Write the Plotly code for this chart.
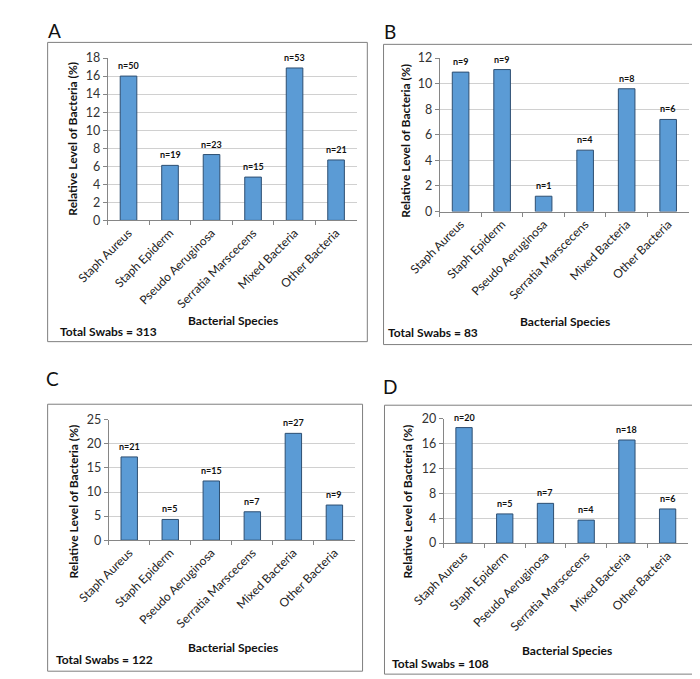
import plotly.graph_objects as go

W, H = 700, 679

categories = ["Staph Aureus", "Staph Epiderm", "Pseudo Aeruginosa",
              "Serratia Marscecens", "Mixed Bacteria", "Other Bacteria"]

values_a = [16.0, 6.1, 7.3, 4.8, 16.9, 6.7]
values_b = [10.9, 11.1, 1.2, 4.8, 9.6, 7.2]
values_c = [17.3, 4.3, 12.3, 5.9, 22.2, 7.3]
values_d = [18.6, 4.7, 6.4, 3.7, 16.6, 5.5]

n_a = ["n=50", "n=19", "n=23", "n=15", "n=53", "n=21"]
n_b = ["n=9", "n=9", "n=1", "n=4", "n=8", "n=6"]
n_c = ["n=21", "n=5", "n=15", "n=7", "n=27", "n=9"]
n_d = ["n=20", "n=5", "n=7", "n=4", "n=18", "n=6"]

totals = ["Total Swabs = 313", "Total Swabs = 83", "Total Swabs = 122", "Total Swabs = 108"]
letters = ["A", "B", "C", "D"]
y_max = [18, 12, 25, 20]
y_dtick = [2, 2, 5, 4]

x_title = "Bacterial Species"
y_title = "Relative Level of Bacteria (%)"

# layout geometry in pixels
plots = [  # x0, x1, ytop, ybottom
    (71, 332, 43, 209),
    (419, 680, 43, 200),
    (72, 330, 413, 536),
    (423, 679, 412, 539),
]
boxes = [  # x0, x1, y0, y1
    (8, 343, 27, 333),
    (360, 693, 29, 336),
    (8, 338, 397, 670),
    (361, 694, 398, 673),
]
letter_pos = [(6, 15), (358, 16), (4, 371), (357, 379)]
xtitle_pos = [(202, 311), (550, 312), (202, 646), (552, 649)]
total_pos = [(19, 323), (363, 324), (15, 658), (367, 662)]
ytitle_pos = [(34, 125), (383, 127), (35, 496), (385, 496)]

FONT = "Lato"
BAR = "#5B9BD5"
EDGE = "#2E4F72"

def px(x):
    return x / W

def py(y):
    return 1 - y / H

fig = go.Figure()
all_vals = [values_a, values_b, values_c, values_d]
all_n = [n_a, n_b, n_c, n_d]
annotations = []
shapes = []

for i in range(4):
    sfx = "" if i == 0 else str(i + 1)
    xa, ya = "x" + sfx, "y" + sfx
    fig.add_trace(go.Bar(
        x=categories, y=all_vals[i], xaxis=xa, yaxis=ya,
        marker=dict(color=BAR, line=dict(color=EDGE, width=1)),
        width=0.4, showlegend=False, hoverinfo="x+y"))
    x0, x1, yt, yb = plots[i]
    fig.layout["xaxis" + sfx] = dict(
        domain=[px(x0), px(x1)], anchor=ya, type="category",
        tickson="boundaries", ticks="outside", ticklen=4, tickcolor="#868686",
        showline=True, linecolor="#868686", linewidth=1, showgrid=False,
        tickangle=-45, tickfont=dict(family=FONT, size=12, color="#222"),
        fixedrange=True)
    fig.layout["yaxis" + sfx] = dict(
        domain=[py(yb), py(yt)], anchor=xa, range=[0, y_max[i]], dtick=y_dtick[i],
        ticks="outside", ticklen=4, tickcolor="#868686",
        showline=True, linecolor="#868686", linewidth=1,
        showgrid=True, gridcolor="#D0D0D0", gridwidth=1, zeroline=False,
        tickfont=dict(family=FONT, size=12.5, color="#333"), fixedrange=True)
    for c, v, t in zip(categories, all_vals[i], all_n[i]):
        annotations.append(dict(x=c, y=v, xref=xa, yref=ya, text="<b>" + t + "</b>",
                                showarrow=False, yanchor="bottom", yshift=3,
                                font=dict(family=FONT, size=9, color="#111")))
    bx0, bx1, by0, by1 = boxes[i]
    shapes.append(dict(type="rect", xref="paper", yref="paper",
                       x0=px(bx0), x1=px(bx1), y0=py(by1), y1=py(by0),
                       line=dict(color="#7F7F7F", width=1)))
    lx, ly = letter_pos[i]
    annotations.append(dict(x=px(lx), y=py(ly), xref="paper", yref="paper",
                            text=letters[i], showarrow=False, xanchor="left", yanchor="middle",
                            font=dict(family=FONT, size=19, color="#111")))
    tx, ty = xtitle_pos[i]
    annotations.append(dict(x=px(tx), y=py(ty), xref="paper", yref="paper",
                            text="<b>" + x_title + "</b>", showarrow=False,
                            xanchor="center", yanchor="middle",
                            font=dict(family=FONT, size=12, color="#111")))
    sx, sy = total_pos[i]
    annotations.append(dict(x=px(sx), y=py(sy), xref="paper", yref="paper",
                            text="<b>" + totals[i] + "</b>", showarrow=False,
                            xanchor="left", yanchor="middle",
                            font=dict(family=FONT, size=12, color="#111")))
    qx, qy = ytitle_pos[i]
    annotations.append(dict(x=px(qx), y=py(qy), xref="paper", yref="paper",
                            text="<b>" + y_title + "</b>", showarrow=False, textangle=-90,
                            xanchor="center", yanchor="middle",
                            font=dict(family=FONT, size=12, color="#111")))

fig.update_layout(width=W, height=H, margin=dict(l=0, r=0, t=0, b=0),
                  paper_bgcolor="white", plot_bgcolor="white",
                  annotations=annotations, shapes=shapes, bargap=0.6)
fig.write_html("out.html")
